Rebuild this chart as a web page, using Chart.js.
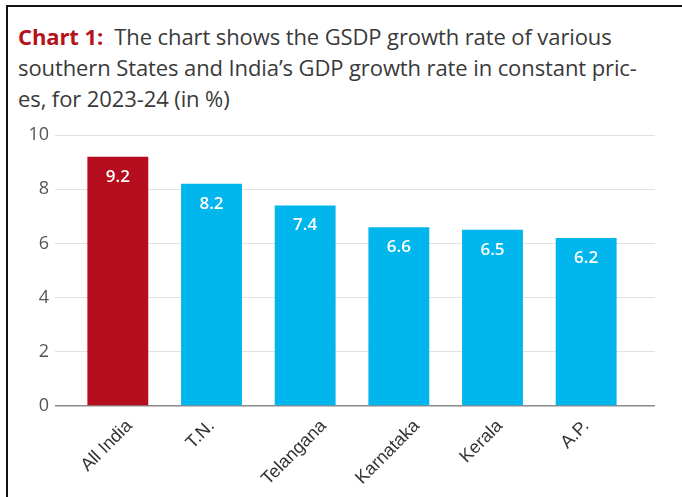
<!DOCTYPE html>
<html>
<head>
<meta charset="utf-8">
<script src="https://cdn.jsdelivr.net/npm/chart.js@4.4.1/dist/chart.umd.min.js"></script>
<style>
  body { margin: 0; background: #fff; }
  .frame {
    position: absolute; left: 6px; top: 5px; width: 676px; height: 492px;
    border-left: 2px solid #111; border-top: 2px solid #111;
  }
  .title {
    position: absolute; left: 18px; top: 21px; width: 660px; white-space: nowrap;
    font-family: "Open Sans", "Noto Sans", sans-serif; font-size: 22px; line-height: 31px;
    color: #3a3a3a; letter-spacing: -0.1px;
  }
  .title b { color: #b5121b; }
  #chart { position: absolute; left: 0; top: 110px; }
</style>
</head>
<body>
<div class="frame"></div>
<div class="title"><b>Chart 1:</b>&nbsp; The chart shows the GSDP growth rate of various<br>southern States and India’s GDP growth rate in constant pric-<br>es, for 2023-24 (in %)</div>
<canvas id="chart" width="682" height="387"></canvas>
<script>
const categories = ['All India', 'T.N.', 'Telangana', 'Karnataka', 'Kerala', 'A.P.'];
const growthRate = [9.2, 8.2, 7.4, 6.6, 6.5, 6.2];
const barColors = ['#b50d1e', '#00b6ec', '#00b6ec', '#00b6ec', '#00b6ec', '#00b6ec'];
const yTicks = [0, 2, 4, 6, 8, 10];

// value labels inside top of each bar
const barValues = {
  id: 'barValues',
  afterDatasetsDraw(chart) {
    const ctx = chart.ctx;
    const meta = chart.getDatasetMeta(0);
    ctx.save();
    ctx.font = '600 17px "Open Sans", sans-serif';
    ctx.fillStyle = '#ffffff';
    ctx.textAlign = 'center';
    ctx.textBaseline = 'middle';
    meta.data.forEach((bar, i) => {
      ctx.fillText(growthRate[i].toFixed(1), bar.x, bar.y + 20);
    });
    ctx.restore();
  }
};

// rotated category labels, centred under each bar
const slantLabels = {
  id: 'slantLabels',
  afterDraw(chart) {
    const ctx = chart.ctx;
    const x = chart.scales.x;
    const top = chart.chartArea.bottom + 13;
    ctx.save();
    ctx.font = '18px "Liberation Sans", Arial, sans-serif';
    ctx.fillStyle = '#333';
    ctx.textAlign = 'center';
    ctx.textBaseline = 'middle';
    categories.forEach((label, i) => {
      const w = ctx.measureText(label).width;
      const cx = x.getPixelForValue(i) - 11;
      const cy = top + (w + 12) * 0.7071 / 2;
      ctx.save();
      ctx.translate(cx, cy);
      ctx.rotate(-Math.PI / 4);
      ctx.fillText(label, 0, 0);
      ctx.restore();
    });
    ctx.restore();
  }
};

const gridColor = (c) => (c.tick && c.tick.value === 0 ? '#8a8a8a' : '#e2e2e2');
const gridWidth = (c) => (c.tick && c.tick.value === 0 ? 1.5 : 1);

new Chart(document.getElementById('chart'), {
  type: 'bar',
  data: {
    labels: categories,
    datasets: [{
      data: growthRate,
      backgroundColor: barColors,
      borderWidth: 0,
      categoryPercentage: 1,
      barPercentage: 0.65
    }]
  },
  options: {
    responsive: false,
    animation: false,
    layout: { padding: { top: 25, right: 27, left: 0, bottom: 0 } },
    plugins: { legend: { display: false }, tooltip: { enabled: false } },
    scales: {
      x: {
        grid: { display: false },
        border: { display: false },
        ticks: { display: false },
        afterFit(scale) { scale.height = 91; }
      },
      y: {
        min: 0,
        max: 10,
        afterBuildTicks(scale) { scale.ticks = yTicks.map(v => ({ value: v })); },
        ticks: { color: '#555', padding: 6, font: { family: '"Open Sans", sans-serif', size: 18 } },
        grid: { color: gridColor, tickLength: 16, lineWidth: gridWidth },
        border: { display: false },
        afterFit(scale) { scale.width = 71; }
      },
      yRight: {
        position: 'right',
        min: 0,
        max: 10,
        afterBuildTicks(scale) { scale.ticks = yTicks.map(v => ({ value: v })); },
        ticks: { display: false },
        grid: { drawOnChartArea: false, color: gridColor, tickLength: 22, lineWidth: gridWidth },
        border: { display: false },
        afterFit(scale) { scale.width = 22; }
      }
    }
  },
  plugins: [barValues, slantLabels]
});
</script>
</body>
</html>
